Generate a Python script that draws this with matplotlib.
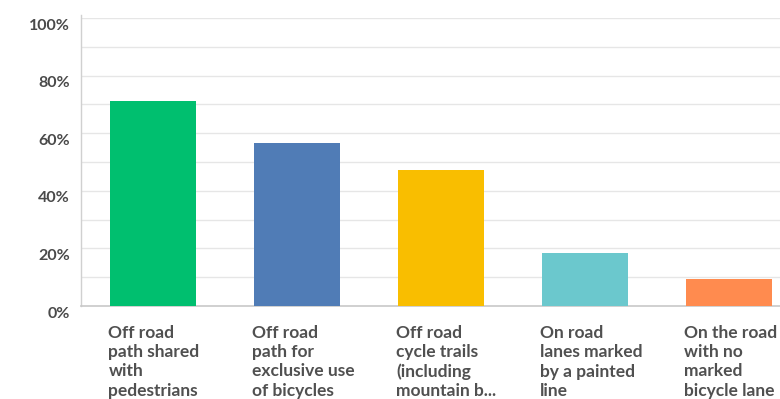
import matplotlib
matplotlib.use("Agg")
import matplotlib.pyplot as plt
import matplotlib.transforms as mtransforms

categories = [
    "Off road\npath shared\nwith\npedestrians",
    "Off road\npath for\nexclusive use\nof bicycles",
    "Off road\ncycle trails\n(including\nmountain b...",
    "On road\nlanes marked\nby a painted\nline",
    "On the road\nwith no\nmarked\nbicycle lane",
]
values = [71.3, 56.6, 47.2, 18.5, 9.3]
colors = ["#00BF6F", "#507CB6", "#F9BE00", "#6BC8CD", "#FF8B4F"]
yticks = [0, 20, 40, 60, 80, 100]
ytick_labels = ["0%", "20%", "40%", "60%", "80%", "100%"]

fig = plt.figure(figsize=(7.8, 3.99), dpi=100)
ax = fig.add_axes([81 / 780, 93 / 399, 720 / 780, 288 / 399])

x = list(range(len(categories)))
bar_w = 0.6
ax.bar(x, values, width=bar_w, color=colors, zorder=3)

ax.set_xlim(-0.5, len(categories) - 0.5)
ax.set_ylim(0, 100)
for yv in range(10, 101, 10):
    ax.axhline(yv, color="#e6e6e6", lw=1, zorder=1)
ax.set_yticks(yticks)
ax.set_yticklabels(ytick_labels)
ax.tick_params(axis="y", length=0, pad=8, labelsize=11.5, labelcolor="#4a4a4a")
offset = mtransforms.ScaledTranslation(0, -6 / 100, fig.dpi_scale_trans)
for lab in ax.get_yticklabels():
    lab.set_transform(lab.get_transform() + offset)
    lab.set_fontweight("bold")
    lab.set_family("Lato")
ax.set_xticks([])

for s in ["top", "right"]:
    ax.spines[s].set_visible(False)
ax.spines["left"].set_color("#d0d0d0")
ax.spines["bottom"].set_color("#c8c8c8")
ax.spines["left"].set_linewidth(1)
ax.spines["bottom"].set_linewidth(1.2)
ax.spines["left"].set_bounds(0, 101)

trans = mtransforms.blended_transform_factory(ax.transData, fig.transFigure)
for xi, lab in zip(x, categories):
    ax.text(xi - bar_w / 2 - 0.01, 1 - 325 / 399, lab, transform=trans,
            ha="left", va="top", fontsize=12.5, color="#505050",
            family="Lato", fontweight="bold", linespacing=1.25, clip_on=False)

fig.savefig("out.png", dpi=100)
